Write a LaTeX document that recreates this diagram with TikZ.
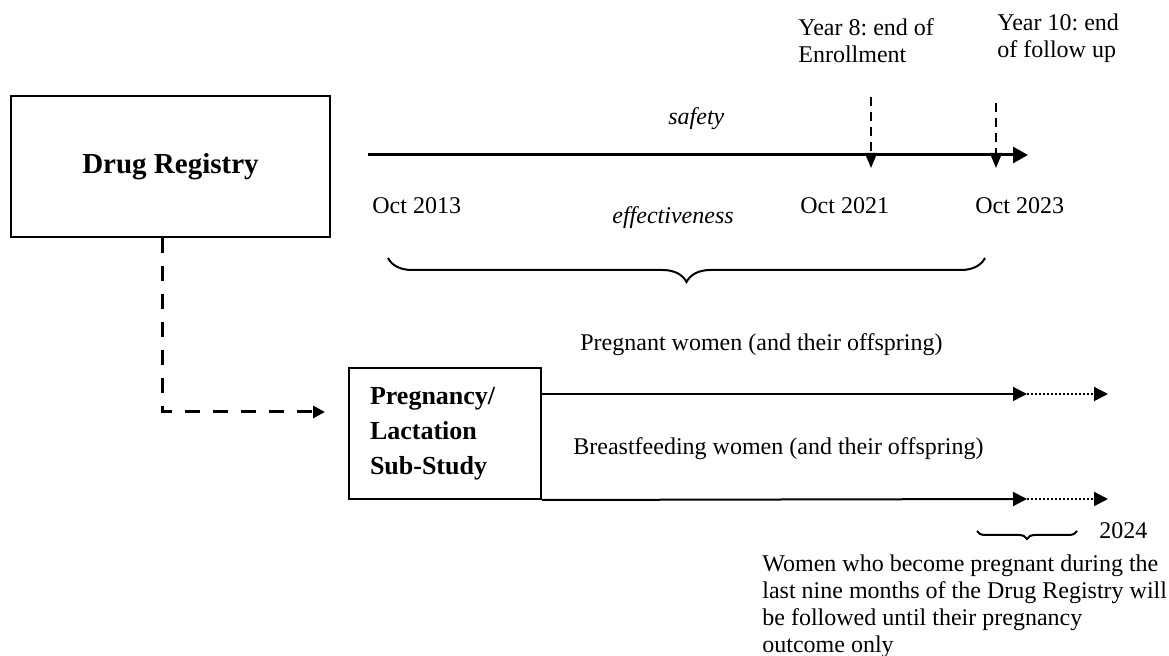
\documentclass[tikz,border=0pt]{standalone}
\usepackage{fontspec}
\setmainfont{Liberation Serif}
\usetikzlibrary{arrows.meta,decorations.pathreplacing}
\frenchspacing

\begin{document}
\begin{tikzpicture}[x=0.5pt,y=-0.5pt,
    every node/.style={inner sep=0pt,font=\fontsize{12}{13.5}\selectfont},
    lbl/.style={anchor=base west,align=left},
    itlbl/.style={anchor=base west,font=\itshape\fontsize{12}{13.5}\selectfont},
    studybox/.style={draw,line width=1pt,font=\bfseries\fontsize{13}{17.5}\selectfont},
    timeline/.style={line width=1.5pt,-{Triangle[length=7.5pt,width=8pt]}},
    marker/.style={line width=1pt,dash pattern=on 4.5pt off 3pt,-{Triangle[length=7.5pt,width=6pt]}},
    row/.style={line width=1pt,-{Triangle[length=7pt,width=7pt]}},
    extra/.style={line width=1pt,densely dotted,-{Triangle[length=7pt,width=7pt]}},
    link/.style={line width=1.5pt,dash pattern=on 7.5pt off 6.5pt,-{Triangle[length=6pt,width=6pt]}},
    bracket/.style={decorate,line width=1pt,decoration={brace,mirror,amplitude=#1}}
    ]
    \useasboundingbox (0,0) rectangle (1169,656);
    \node[studybox,minimum width=159.5pt,minimum height=70.5pt,font=\bfseries\fontsize{14.5}{16}\selectfont] (reg) at (170.5,166.5) {Drug Registry};
    \node[studybox,minimum width=96pt,minimum height=65.5pt,text width=75pt,align=left] (sub) at (445,433.5) {Pregnancy/\\Lactation\\Sub-Study};
    \coordinate (t0) at (368,155);
    \coordinate (t1) at (1028,155);
    \draw[timeline] (t0) -- (t1);
    \coordinate (m8) at (871,97);
    \coordinate (m8e) at (871,168);
    \coordinate (m10) at (996,103);
    \coordinate (m10e) at (996,168);
    \draw[marker] (m8) -- (m8e);
    \draw[marker] (m10) -- (m10e);
    \node[lbl] (y8) at (798,63) {Year 8: end of\\Enrollment};
    \node[lbl] (y10) at (997,58) {Year 10: end\\of follow up};
    \node[itlbl] (safety) at (668,125) {safety};
    \node[lbl] (oct13) at (372,214) {Oct 2013};
    \node[lbl] (oct21) at (800,214) {Oct 2021};
    \node[lbl] (oct23) at (975,214) {Oct 2023};
    \node[itlbl] (eff) at (612,224) {effectiveness};
    \coordinate (b0) at (388,258);
    \coordinate (b1) at (985,258);
    \draw[bracket=12pt] (b0) -- (b1);
    \node[lbl] (preg) at (580,351) {Pregnant women (and their offspring)};
    \node[lbl] (breast) at (573,455) {Breastfeeding women (and their offspring)};
    \coordinate (r1a) at (1027,394);
    \coordinate (r1b) at (1108,394);
    \coordinate (r2a) at (1027,499);
    \coordinate (r2b) at (1108,499);
    \draw[row] (sub.east |- r1a) -- (r1a);
    \draw[extra] (r1a) -- (r1b);
    \draw[row] (sub.south east) -- (r2a);
    \draw[extra] (r2a) -- (r2b);
    \coordinate (cin) at (325,412);
    \draw[link] ([xshift=-4pt]reg.south) -- ([xshift=-4pt]reg.south |- cin) -- (cin);
    \coordinate (s0) at (977,531);
    \coordinate (s1) at (1077,531);
    \draw[bracket=4pt] (s0) -- (s1);
    \node[lbl] (yr) at (1099,539) {2024};
    \node[lbl] (note) at (762,653) {Women who become pregnant during the\\last nine months of the Drug Registry will\\be followed until their pregnancy\\outcome only};
\end{tikzpicture}
\end{document}
